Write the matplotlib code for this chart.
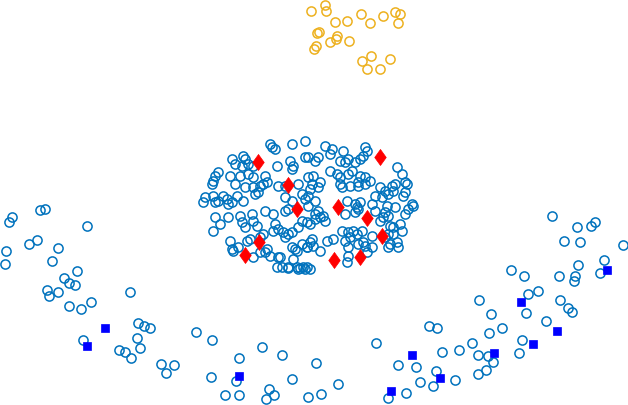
import matplotlib
matplotlib.use('Agg')
import matplotlib.pyplot as plt
import numpy as np

# point positions (pixel units, y grows downward)
top_x = [311, 325, 326, 335, 347, 361, 370, 383, 395, 400, 398, 317, 319, 316, 314,
         330, 336, 337, 349, 362, 371, 367, 380, 390]
top_y = [12, 6, 12, 23, 22, 15, 24, 17, 13, 15, 24, 34, 33, 47, 50,
         43, 40, 37, 42, 62, 57, 70, 70, 60]

ring = [
    (270, 145), (272, 148), (275, 150), (292, 145), (305, 142),
    (232, 160), (243, 157), (245, 160), (235, 165), (242, 167), (248, 165), (253, 167),
    (277, 167), (290, 162), (293, 167), (292, 170), (305, 158),
    (218, 173), (215, 177), (213, 182), (212, 185),
    (230, 177), (240, 177), (248, 175), (253, 178), (265, 177),
    (235, 185), (245, 188), (253, 188), (260, 187), (263, 185), (267, 183),
    (278, 187), (285, 187), (298, 185), (255, 195), (258, 193),
    (205, 198), (203, 203), (213, 197), (215, 203), (218, 202), (223, 197), (227, 200),
    (228, 205), (232, 203), (237, 197), (243, 202),
    (285, 198), (292, 202), (302, 195), (305, 200), (288, 210),
    (265, 212), (273, 215), (285, 212),
    (215, 218), (220, 225), (213, 232), (228, 218), (240, 217), (242, 223), (245, 228),
    (252, 215), (253, 222), (257, 227),
    (275, 225), (273, 232), (278, 230), (283, 233), (285, 238), (288, 235), (292, 233),
    (302, 222), (298, 228), (263, 235), (260, 238),
    (230, 242), (232, 250), (233, 252), (238, 248), (247, 242), (250, 240),
    (260, 253), (265, 253), (267, 250), (270, 257), (253, 258),
    (278, 258), (282, 268), (288, 268), (293, 260), (297, 252), (302, 245), (307, 248),
    (292, 248), (295, 250), (298, 270), (305, 270),
    (325, 147), (332, 150), (343, 152), (330, 155), (318, 158), (315, 162), (308, 158),
    (365, 148), (367, 152), (363, 157), (360, 160), (355, 163), (348, 160), (345, 163), (340, 162),
    (330, 172), (337, 175), (340, 178), (348, 175), (352, 172), (360, 177), (365, 178),
    (370, 182), (365, 185),
    (308, 178), (313, 177), (320, 183), (312, 185), (310, 190), (318, 188),
    (340, 185), (342, 188), (350, 187), (358, 187), (358, 183),
    (380, 188), (385, 192), (392, 187), (395, 185), (393, 192), (388, 195), (375, 197), (382, 198),
    (397, 168), (402, 175), (405, 183), (407, 185), (405, 193), (403, 197),
    (413, 207), (412, 205), (405, 215), (408, 210),
    (308, 197), (315, 202), (308, 207), (318, 212),
    (347, 202), (355, 205), (357, 208), (360, 203),
    (372, 205), (375, 212), (387, 207), (395, 208), (385, 213), (388, 217), (383, 218),
    (315, 215), (320, 218), (323, 217), (325, 222), (307, 223), (310, 225), (315, 220),
    (345, 215), (355, 213), (358, 210),
    (380, 222), (390, 227), (393, 228), (400, 225), (402, 232), (388, 235), (385, 238), (393, 235),
    (342, 232), (348, 233), (353, 232), (357, 235), (362, 232),
    (327, 242), (333, 240), (345, 242), (350, 238),
    (363, 243), (365, 247), (358, 245), (372, 237),
    (312, 240), (310, 243), (313, 247), (307, 248), (320, 252),
    (348, 248), (348, 257), (347, 263),
    (390, 245), (388, 248), (397, 243), (398, 248),
    (307, 268), (310, 270), (367, 253), (372, 248),
    (277, 268), (288, 269), (297, 268), (300, 269), (303, 268), (280, 258),
]

arc = [
    (12, 218), (9, 223), (40, 211), (45, 210), (87, 227), (37, 241), (29, 245), (6, 252),
    (5, 265), (58, 249), (52, 262), (77, 272), (64, 279), (69, 284), (75, 286), (47, 291),
    (49, 297), (58, 293), (91, 303), (69, 307), (81, 310), (130, 293), (138, 324), (144, 327),
    (150, 329), (137, 339), (140, 349), (119, 351), (125, 353), (131, 359), (83, 341), (161, 365),
    (196, 333), (212, 341), (262, 348), (239, 359), (282, 356), (166, 374), (174, 366),
    (211, 378), (236, 382), (225, 396), (239, 396), (269, 390), (274, 396), (266, 400),
    (292, 380), (316, 364), (308, 398), (321, 395), (338, 385), (376, 344), (388, 399),
    (398, 366), (416, 368), (429, 327), (437, 329), (442, 353), (436, 372), (420, 383),
    (433, 387), (406, 394), (455, 381), (459, 351), (472, 344), (478, 356), (488, 357),
    (493, 363), (486, 371), (478, 375), (489, 334), (491, 315), (502, 329), (479, 301),
    (522, 341), (519, 354), (526, 314), (528, 295), (538, 292), (546, 322), (560, 301),
    (568, 309), (572, 313), (552, 217), (577, 228), (591, 227), (595, 223), (564, 242),
    (580, 243), (623, 246), (604, 261), (578, 266), (600, 274), (575, 277), (574, 282),
    (559, 277), (511, 271), (524, 277),
]

red_x = [258, 288, 297, 259, 245, 380, 338, 367, 382, 334, 360]
red_y = [163, 186, 210, 243, 256, 158, 208, 219, 237, 261, 258]

sq_x = [105, 87, 239, 391, 412, 440, 494, 521, 533, 557, 607]
sq_y = [329, 347, 377, 392, 356, 379, 354, 303, 345, 332, 271]

blue_x = [p[0] for p in ring + arc]
blue_y = [p[1] for p in ring + arc]

diamond = [(0, 1), (0.72, 0), (0, -1), (-0.72, 0), (0, 1)]

fig = plt.figure(figsize=(6.28, 4.06), dpi=100)
ax = fig.add_axes([0, 0, 1, 1])

ax.plot(top_x, top_y, 'o', ms=6.6, mfc='none', mec='#EDB120', mew=1.1)
ax.plot(blue_x, blue_y, 'o', ms=6.6, mfc='none', mec='#0072BD', mew=1.1)
ax.plot(sq_x, sq_y, 's', ms=6.0, mfc='#0000FF', mec='#0000FF', mew=0.5)
ax.plot(red_x, red_y, marker=diamond, ls='none', ms=11.5, mfc='#FF0000', mec='#FF0000', mew=0.5)

ax.set_xlim(0, 628)
ax.set_ylim(406, 0)
ax.axis('off')

fig.savefig('out.png', dpi=100)
